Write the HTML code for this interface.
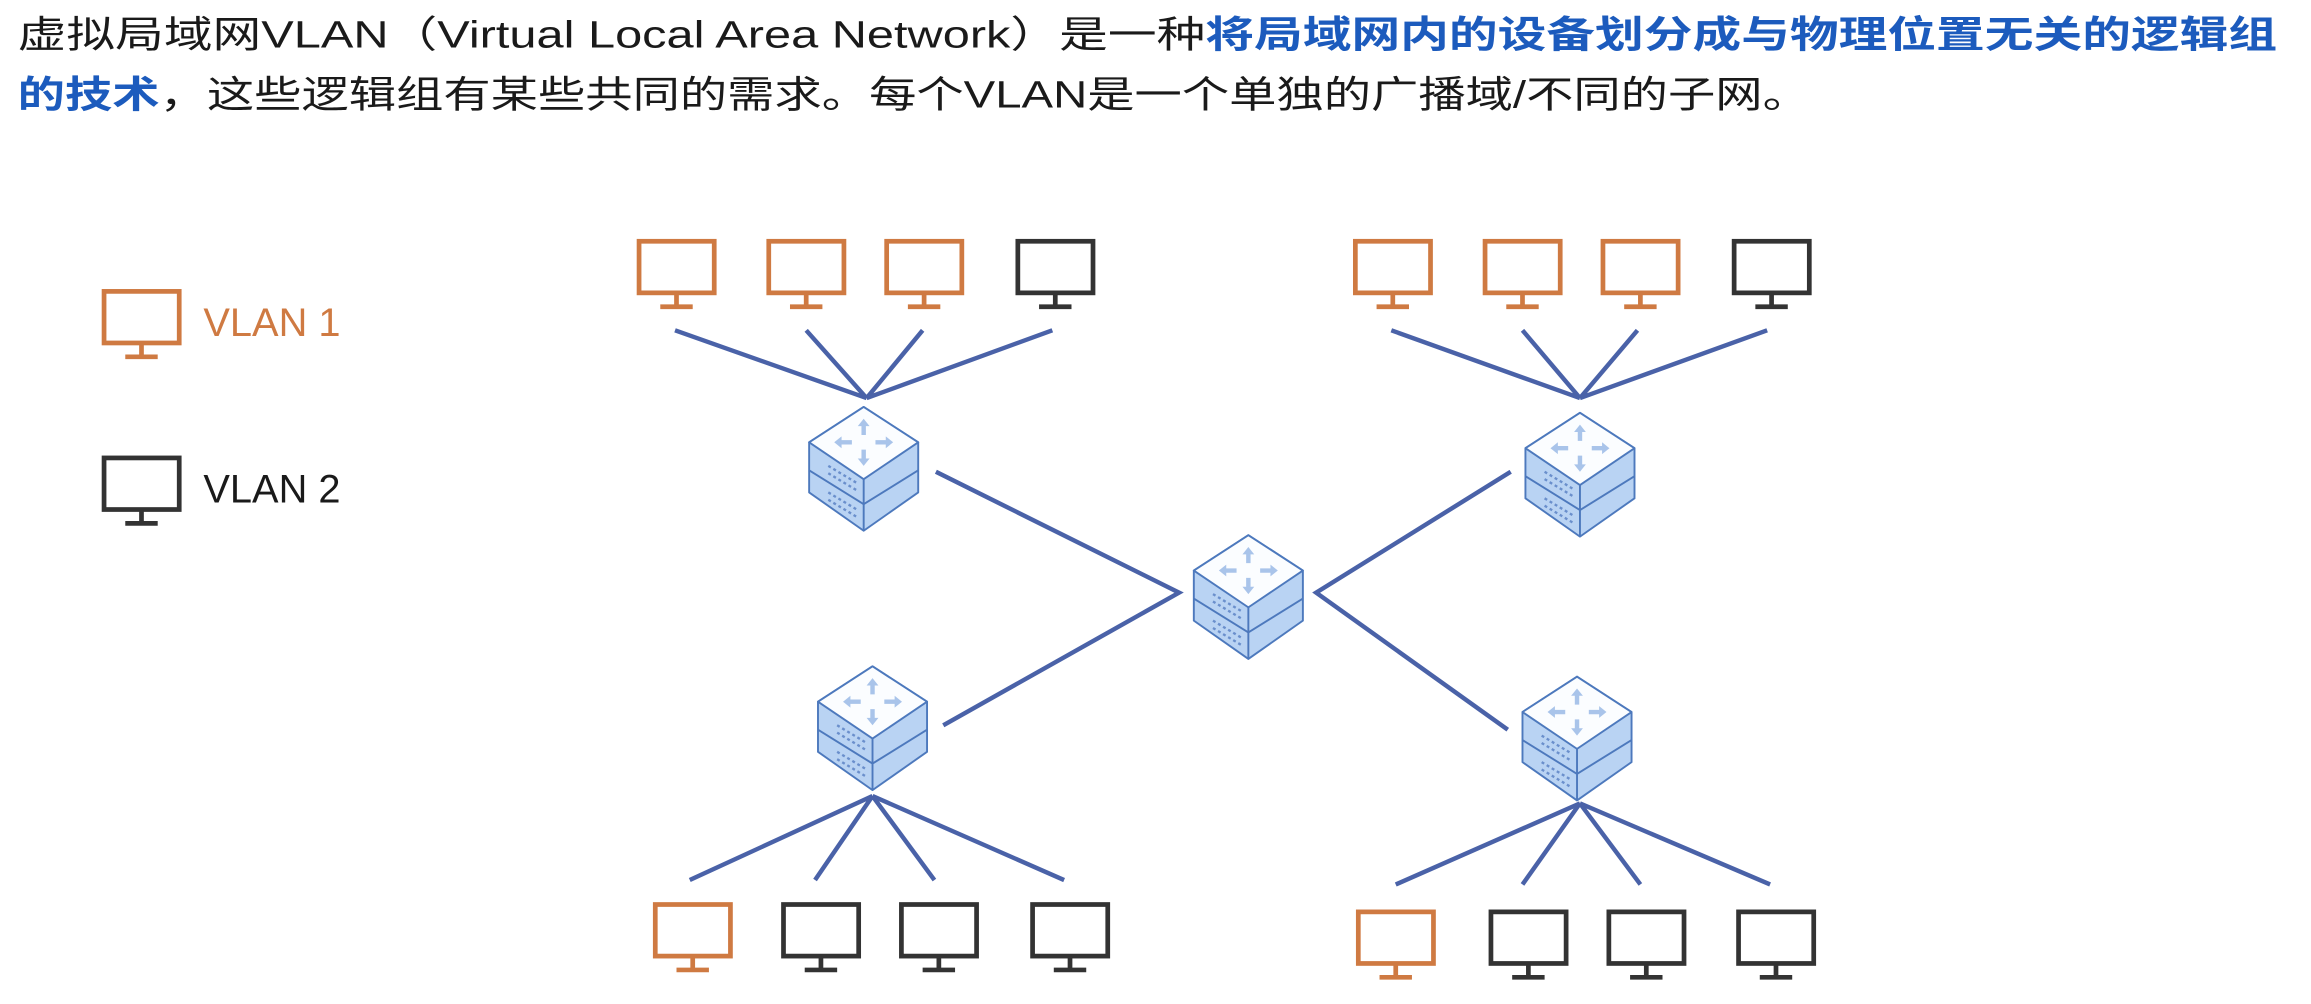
<!DOCTYPE html>
<html><head><meta charset="utf-8"><style>
html,body{margin:0;padding:0;background:#fff;}
svg{display:block}
</style></head><body>
<svg width="2311" height="1004" viewBox="0 0 1568 681" xmlns="http://www.w3.org/2000/svg">
<defs>
<g id="mon" fill="none" stroke-width="3.2">
  <rect x="1.6" y="1.6" width="51" height="35"/>
  <line x1="27" y1="37" x2="27" y2="46"/>
  <line x1="16" y1="46" x2="38" y2="46"/>
</g>
<g id="sw" stroke="#4d79bd" stroke-width="1.3" stroke-linejoin="round">
  <path d="M-37,24 L0,0 L37,24 L37,58 L0,84 L-37,58 Z" fill="#b9d3f3"/>
  <path d="M-37,43 L0,66 L37,43" fill="none"/>
  <path d="M-37,24 L0,0 L37,24 L0,49 Z" fill="#fbfdff"/>
  <line x1="0" y1="49" x2="0" y2="84"/>
  <g fill="#a9c4ea" stroke="none">
    <path d="M0,8 l-4,5 h2.5 v6 h3 v-6 h2.5z"/>
    <path d="M0,40 l-4,-5 h2.5 v-6 h3 v6 h2.5z"/>
    <path d="M-20,24 l5,-4 v2.5 h7 v3 h-7 v2.5z"/>
    <path d="M20,24 l-5,-4 v2.5 h-7 v3 h7 v2.5z"/>
  </g>
  <g stroke="#6a8fcc" stroke-width="1.6" stroke-dasharray="2 2">
    <line x1="-24" y1="40" x2="-4" y2="52"/>
    <line x1="-24" y1="45" x2="-4" y2="57"/>
    <line x1="-24" y1="58" x2="-4" y2="70"/>
    <line x1="-24" y1="63" x2="-4" y2="75"/>
  </g>
</g>
</defs>

<text x="12" y="32" font-family="Liberation Sans, 'Noto Sans CJK SC', sans-serif" font-size="25.5" fill="#1a1a1a" textLength="1533" lengthAdjust="spacingAndGlyphs">虚拟局域网VLAN（Virtual Local Area Network）是一种<tspan fill="#1c5bbd" font-weight="bold">将局域网内的设备划分成与物理位置无关的逻辑组</tspan></text>
<text x="12" y="73" font-family="Liberation Sans, 'Noto Sans CJK SC', sans-serif" font-size="25.5" fill="#1a1a1a" textLength="1216" lengthAdjust="spacingAndGlyphs"><tspan fill="#1c5bbd" font-weight="bold">的技术</tspan>，这些逻辑组有某些共同的需求。每个VLAN是一个单独的广播域/不同的子网。</text>

<!-- legend -->
<use href="#mon" x="69" y="196" stroke="#cf7a42"/>
<text x="138" y="228" font-family="Liberation Sans, sans-serif" font-size="27" fill="#cf7a42">VLAN 1</text>
<use href="#mon" x="69" y="309" stroke="#333"/>
<text x="138" y="341" font-family="Liberation Sans, sans-serif" font-size="27" fill="#1a1a1a">VLAN 2</text>

<!-- links -->
<g stroke="#4a62a8" stroke-width="3" fill="none">
  <path d="M458,224 L588,270 M547,224 L588,270 M626,224 L588,270 M714,224 L588,270"/>
  <path d="M944,224 L1072,270 M1033,224 L1072,270 M1111,224 L1072,270 M1199,224 L1072,270"/>
  <path d="M635,320 L800,402 L640,492"/>
  <path d="M1025,320 L893,402 L1023,495"/>
  <path d="M468,597 L592,540 M553,597 L592,540 M634,597 L592,540 M722,597 L592,540"/>
  <path d="M947,600 L1072,545 M1033,600 L1072,545 M1113,600 L1072,545 M1201,600 L1072,545"/>
</g>

<!-- switches -->
<use href="#sw" x="586" y="276"/>
<use href="#sw" x="1072" y="280"/>
<use href="#sw" x="847" y="363"/>
<use href="#sw" x="592" y="452"/>
<use href="#sw" x="1070" y="459"/>

<!-- monitors -->
<use href="#mon" x="432" y="162" stroke="#cf7a42"/>
<use href="#mon" x="520" y="162" stroke="#cf7a42"/>
<use href="#mon" x="600" y="162" stroke="#cf7a42"/>
<use href="#mon" x="689" y="162" stroke="#333"/>
<use href="#mon" x="918" y="162" stroke="#cf7a42"/>
<use href="#mon" x="1006" y="162" stroke="#cf7a42"/>
<use href="#mon" x="1086" y="162" stroke="#cf7a42"/>
<use href="#mon" x="1175" y="162" stroke="#333"/>
<use href="#mon" x="443" y="612" stroke="#cf7a42"/>
<use href="#mon" x="530" y="612" stroke="#333"/>
<use href="#mon" x="610" y="612" stroke="#333"/>
<use href="#mon" x="699" y="612" stroke="#333"/>
<use href="#mon" x="920" y="617" stroke="#cf7a42"/>
<use href="#mon" x="1010" y="617" stroke="#333"/>
<use href="#mon" x="1090" y="617" stroke="#333"/>
<use href="#mon" x="1178" y="617" stroke="#333"/>
</svg>
</body></html>
